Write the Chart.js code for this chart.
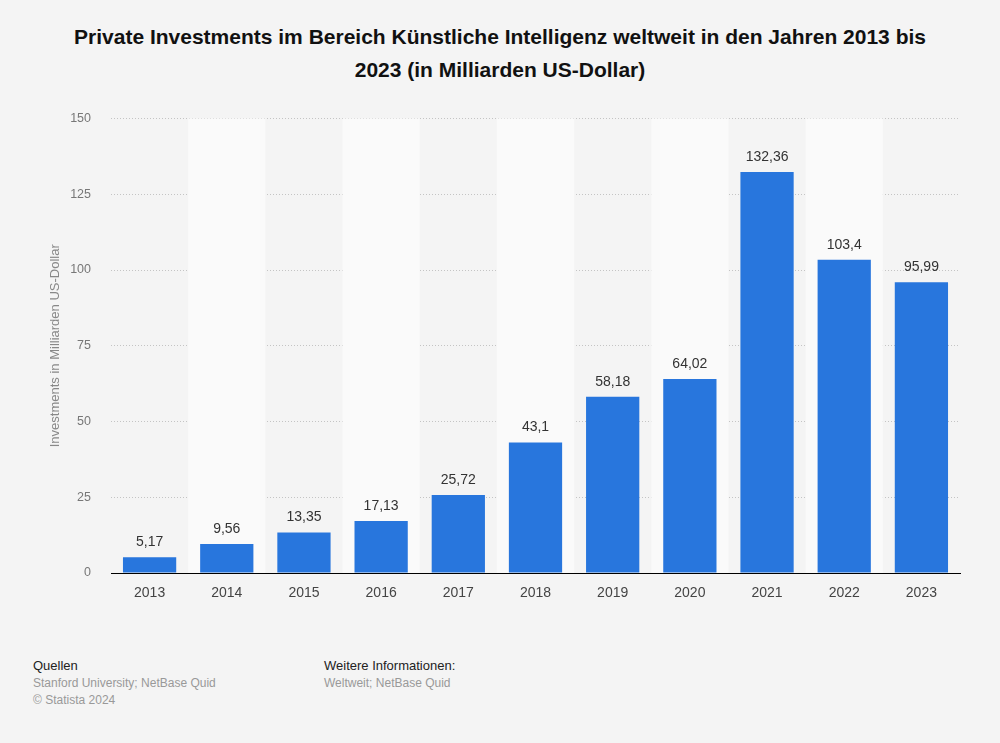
<!DOCTYPE html>
<html lang="de">
<head>
    <meta charset="UTF-8">
    <title>Private Investments KI</title>
    <script src="https://cdn.jsdelivr.net/npm/chart.js@4"></script>
    <style>
        * { margin: 0; padding: 0; box-sizing: border-box; }
        body {
            width: 1000px;
            height: 743px;
            background: #f4f4f4;
            font-family: 'Liberation Sans', Arial, sans-serif;
            position: relative;
            overflow: hidden;
        }
        .title {
            position: absolute;
            top: 20px;
            left: 0;
            width: 1000px;
            text-align: center;
            font-weight: bold;
            font-size: 21px;
            line-height: 33px;
            color: #111;
        }
        .chart-box {
            position: absolute;
            top: 91px;
            left: 0;
            width: 1000px;
            height: 529px;
        }
        .footer {
            position: absolute;
            top: 657px;
            font-size: 12px;
            line-height: 17px;
            color: #999;
        }
        .footer b { font-weight: normal; color: #222; font-size: 13px; }
    </style>
</head>
<body>
    <div class="title">Private Investments im Bereich Künstliche Intelligenz weltweit in den Jahren 2013 bis<br>2023 (in Milliarden US-Dollar)</div>

    <div class="chart-box">
        <canvas id="chart"></canvas>
    </div>

    <div class="footer" style="left: 33px;">
        <b>Quellen</b><br>
        Stanford University; NetBase Quid<br>
        © Statista 2024
    </div>
    <div class="footer" style="left: 324px;">
        <b>Weitere Informationen:</b><br>
        Weltweit; NetBase Quid
    </div>

    <script>
        const years = ['2013', '2014', '2015', '2016', '2017', '2018', '2019', '2020', '2021', '2022', '2023'];
        const investments = [5.17, 9.56, 13.35, 17.13, 25.72, 43.1, 58.18, 64.02, 132.36, 103.4, 95.99];
        const yTicks = [0, 25, 50, 75, 100, 125, 150];

        const fmt = v => String(v).replace('.', ',');

        // lighter bands behind every second year
        const bandPlugin = {
            id: 'bands',
            beforeDatasetsDraw(chart) {
                const { ctx, chartArea, scales } = chart;
                const x = scales.x;
                const step = x.width / years.length;
                ctx.save();
                ctx.fillStyle = '#fafafa';
                years.forEach((y, i) => {
                    if (i % 2 === 1) {
                        const c = x.getPixelForValue(i);
                        ctx.fillRect(c - step / 2, chartArea.top, step, chartArea.bottom - chartArea.top);
                    }
                });
                ctx.restore();
            }
        };

        // value labels above the bars
        const labelPlugin = {
            id: 'valueLabels',
            afterDatasetsDraw(chart) {
                const { ctx } = chart;
                const meta = chart.getDatasetMeta(0);
                ctx.save();
                ctx.font = '14px "Liberation Sans", Arial, sans-serif';
                ctx.fillStyle = '#333';
                ctx.textAlign = 'center';
                ctx.textBaseline = 'bottom';
                meta.data.forEach((bar, i) => {
                    ctx.fillText(fmt(investments[i]), bar.x, bar.y - 8);
                });
                ctx.restore();
            }
        };

        const ctx = document.getElementById('chart').getContext('2d');
        new Chart(ctx, {
            type: 'bar',
            data: {
                labels: years,
                datasets: [{
                    data: investments,
                    backgroundColor: '#2876dd',
                    barPercentage: 0.69,
                    categoryPercentage: 1
                }]
            },
            options: {
                responsive: true,
                maintainAspectRatio: false,
                animation: false,
                layout: { padding: { top: 9, right: 40, left: 0, bottom: 0 } },
                plugins: {
                    legend: { display: false },
                    tooltip: { enabled: false }
                },
                scales: {
                    x: {
                        grid: { display: false, drawTicks: false },
                        border: { color: '#000', width: 1 },
                        ticks: {
                            color: '#444',
                            font: { size: 14, family: '"Liberation Sans", Arial, sans-serif' },
                            padding: 12
                        },
                        afterFit: s => { s.height = 47; }
                    },
                    y: {
                        min: 0,
                        max: 150,
                        afterBuildTicks: s => { s.ticks = yTicks.map(v => ({ value: v })); },
                        grid: {
                            color: c => c.tick.value === 0 ? 'rgba(0,0,0,0)' : '#c4c4c4',
                            drawTicks: false
                        },
                        border: { display: false, dash: [1, 2] },
                        ticks: {
                            color: '#777',
                            font: { size: 12.5, family: '"Liberation Sans", Arial, sans-serif' },
                            padding: 20
                        },
                        title: {
                            display: true,
                            text: 'Investments in Milliarden US-Dollar',
                            color: '#888',
                            font: { size: 13, family: '"Liberation Sans", Arial, sans-serif' },
                            padding: { top: 48, bottom: 0 }
                        },
                        afterFit: s => { s.width = 111; }
                    }
                }
            },
            plugins: [bandPlugin, labelPlugin]
        });
    </script>
</body>
</html>
